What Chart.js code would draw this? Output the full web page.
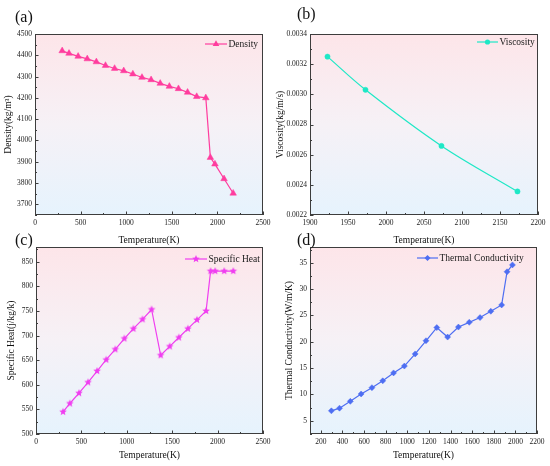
<!DOCTYPE html>
<html>
<head>
<meta charset="utf-8">
<script src="https://cdn.jsdelivr.net/npm/chart.js@4.4.1/dist/chart.umd.min.js"></script>
<style>
  body { margin: 0; background: #fff; width: 550px; height: 466px; position: relative; overflow: hidden; }
  canvas { position: absolute; display: block; }
</style>
</head>
<body>
<canvas id="chartA" width="275" height="250" style="left:0;top:0"></canvas>
<canvas id="chartB" width="275" height="250" style="left:275px;top:0"></canvas>
<canvas id="chartC" width="275" height="233" style="left:0;top:233px"></canvas>
<canvas id="chartD" width="275" height="233" style="left:275px;top:233px"></canvas>
<script>
// Données
const tempSolidLiquid = [298, 373, 473, 573, 673, 773, 873, 973, 1073, 1173, 1273, 1373, 1473, 1573, 1673, 1773, 1873, 1923, 1973, 2073, 2173];
const density = [4421, 4409, 4395, 4383, 4369, 4352, 4338, 4327, 4312, 4296, 4285, 4268, 4254, 4243, 4226, 4206, 4200, 3920, 3889, 3820, 3752];

const tempLiquid = [1923, 1973, 2073, 2173];
const viscosity = [0.00325, 0.00303, 0.002658, 0.002356];

const specificHeat = [545, 562, 583, 605, 628, 651, 672, 694, 714, 733, 753, 660, 678, 696, 714, 732, 750, 831, 831, 831, 831];

const tempConductivity = [298, 373, 473, 573, 673, 773, 873, 973, 1073, 1173, 1273, 1373, 1473, 1573, 1673, 1773, 1873, 1923, 1973];
const conductivity = [6.9, 7.4, 8.7, 10.1, 11.3, 12.6, 14.1, 15.4, 17.7, 20.2, 22.7, 20.9, 22.8, 23.7, 24.6, 25.8, 27.0, 33.3, 34.6];

// Graduations
const xTicksWide = [0, 500, 1000, 1500, 2000, 2500];
const yTicksDensity = [3700, 3800, 3900, 4000, 4100, 4200, 4300, 4400, 4500];
const xTicksLiquid = [1900, 1950, 2000, 2050, 2100, 2150, 2200];
const yTicksViscosity = [0.0022, 0.0024, 0.0026, 0.0028, 0.0030, 0.0032, 0.0034];
const yTicksHeat = [500, 550, 600, 650, 700, 750, 800, 850];
const xTicksCond = [200, 400, 600, 800, 1000, 1200, 1400, 1600, 1800, 2000, 2200];
const yTicksCond = [5, 10, 15, 20, 25, 30, 35];

const SERIF = "'Liberation Serif', 'Times New Roman', serif";

// Étoile pleine (marqueur de la chaleur spécifique)
function starImage(color, r) {
    const c = document.createElement('canvas');
    c.width = c.height = Math.ceil(r * 2 + 2);
    const g = c.getContext('2d');
    g.fillStyle = color;
    g.beginPath();
    for (let i = 0; i < 10; i++) {
        const rr = i % 2 ? r * 0.45 : r;
        const ang = -Math.PI / 2 + i * Math.PI / 5;
        g.lineTo(c.width / 2 + rr * Math.cos(ang), c.height / 2 + rr * Math.sin(ang));
    }
    g.closePath();
    g.fill();
    return c;
}

function drawMarker(ctx, style, x, y, r, color) {
    ctx.save();
    ctx.fillStyle = color;
    ctx.beginPath();
    if (style instanceof HTMLCanvasElement) {
        ctx.drawImage(style, x - style.width / 2, y - style.height / 2);
    } else if (style === 'triangle') {
        ctx.moveTo(x, y - r);
        ctx.lineTo(x + r * 0.87, y + r * 0.5);
        ctx.lineTo(x - r * 0.87, y + r * 0.5);
        ctx.fill();
    } else if (style === 'rectRot') {
        ctx.moveTo(x, y - r); ctx.lineTo(x + r, y); ctx.lineTo(x, y + r); ctx.lineTo(x - r, y);
        ctx.fill();
    } else {
        ctx.arc(x, y, r, 0, Math.PI * 2);
        ctx.fill();
    }
    ctx.restore();
}

// Minor ticks : un entre chaque graduation principale
function minorValues(major, min, max) {
    const step = major[1] - major[0];
    const out = [];
    for (let v = major[0] - step / 2; v <= max + 1e-12; v += step) {
        if (v >= min - 1e-12) out.push(v);
    }
    return out;
}

const panelPlugin = {
    id: 'panel',
    beforeDraw(chart) {
        const { ctx, chartArea: a } = chart;
        const g = ctx.createLinearGradient(0, a.top, 0, a.bottom);
        g.addColorStop(0, '#fde5e9');
        g.addColorStop(0.5, '#f6f1f6');
        g.addColorStop(1, '#e6f3fd');
        ctx.save();
        ctx.fillStyle = g;
        ctx.fillRect(a.left, a.top, a.width, a.height);
        ctx.restore();
    },
    afterDraw(chart, args, opts) {
        const { ctx, chartArea: a, scales } = chart;
        const xs = scales.x, ys = scales.y;
        ctx.save();
        // cadre
        ctx.strokeStyle = '#3d3d3d';
        ctx.lineWidth = 1;
        ctx.strokeRect(a.left + 0.5, a.top + 0.5, a.width - 1, a.height - 1);
        // graduations intérieures
        ctx.beginPath();
        xs.ticks.forEach(t => {
            const px = Math.round(xs.getPixelForValue(t.value)) + 0.5;
            ctx.moveTo(px, a.bottom); ctx.lineTo(px, a.bottom - 3.5);
        });
        minorValues(opts.xMajor, xs.min, xs.max).forEach(v => {
            const px = Math.round(xs.getPixelForValue(v)) + 0.5;
            ctx.moveTo(px, a.bottom); ctx.lineTo(px, a.bottom - 2);
        });
        ys.ticks.forEach(t => {
            const py = Math.round(ys.getPixelForValue(t.value)) + 0.5;
            ctx.moveTo(a.left, py); ctx.lineTo(a.left + 3.5, py);
        });
        minorValues(opts.yMajor, ys.min, ys.max).forEach(v => {
            const py = Math.round(ys.getPixelForValue(v)) + 0.5;
            ctx.moveTo(a.left, py); ctx.lineTo(a.left + 2, py);
        });
        ctx.stroke();

        // légende
        const ds = chart.data.datasets[0];
        const [lx1, lx2, ly] = opts.legend;
        ctx.strokeStyle = ds.borderColor;
        ctx.lineWidth = 1.2;
        ctx.beginPath();
        ctx.moveTo(lx1, ly); ctx.lineTo(lx2, ly);
        ctx.stroke();
        drawMarker(ctx, ds.pointStyle, (lx1 + lx2) / 2, ly, ds.pointRadius, ds.borderColor);
        ctx.fillStyle = '#1a1a1a';
        ctx.font = '9.5px ' + SERIF;
        ctx.textBaseline = 'middle';
        ctx.textAlign = 'left';
        ctx.fillText(ds.label, lx2 + 1.5, ly + 0.5);

        // étiquette du panneau
        ctx.font = '16px ' + SERIF;
        ctx.fillStyle = '#111';
        ctx.fillText(opts.tag[0], opts.tag[1], opts.tag[2]);
        ctx.restore();
    }
};

function makeChart(id, p) {
    const tickFont = { family: SERIF, size: 7.5 };
    const titleFont = { family: SERIF, size: 9.5 };
    return new Chart(document.getElementById(id), {
        type: 'line',
        data: {
            datasets: [{
                label: p.label,
                data: p.x.map((t, i) => ({ x: t, y: p.y[i] })),
                borderColor: p.color,
                backgroundColor: p.color,
                borderWidth: 1.2,
                pointStyle: p.marker,
                pointRadius: p.radius,
                pointBorderWidth: 0.5,
                tension: p.tension || 0
            }]
        },
        options: {
            responsive: false,
            animation: false,
            layout: { padding: { left: 0, right: p.padRight, top: p.padTop, bottom: 0 } },
            plugins: {
                legend: { display: false },
                tooltip: { enabled: false },
                panel: { legend: p.legend, tag: p.tag, xMajor: p.xTicks, yMajor: p.yTicks }
            },
            scales: {
                x: {
                    type: 'linear',
                    min: p.xMin, max: p.xMax,
                    grid: { display: false, drawTicks: false },
                    border: { display: false },
                    ticks: { font: tickFont, color: '#222', padding: 4, maxRotation: 0, autoSkip: false, callback: v => String(v) },
                    title: { display: true, text: 'Temperature(K)', font: titleFont, color: '#111', padding: { top: 0, bottom: p.xTitleBottom } },
                    afterBuildTicks: s => { s.ticks = p.xTicks.map(v => ({ value: v })); },
                    afterFit: s => { s.height = p.xHeight; }
                },
                y: {
                    min: p.yMin, max: p.yMax,
                    grid: { display: false, drawTicks: false },
                    border: { display: false },
                    ticks: { font: tickFont, color: '#222', padding: 3, autoSkip: false, callback: p.yFormat || (v => String(v)) },
                    title: { display: true, text: p.yTitle, font: titleFont, color: '#111', padding: { top: p.yTitlePad, bottom: 0 } },
                    afterBuildTicks: s => { s.ticks = p.yTicks.map(v => ({ value: v })); },
                    afterFit: s => { s.width = p.yWidth; }
                }
            }
        },
        plugins: [panelPlugin]
    });
}

makeChart('chartA', {
    label: 'Density', x: tempSolidLiquid, y: density, color: '#ff3d9e', marker: 'triangle', radius: 3.8,
    xMin: 0, xMax: 2500, yMin: 3650, yMax: 4500, xTicks: xTicksWide, yTicks: yTicksDensity,
    yTitle: 'Density(kg/m³)', yTitlePad: 3, yWidth: 35, xHeight: 35, xTitleBottom: 4,
    padRight: 12, padTop: 34, legend: [205, 227, 44], tag: ['(a)', 15, 18]
});

makeChart('chartB', {
    label: 'Viscosity', x: tempLiquid, y: viscosity, color: '#1ee8c6', marker: 'circle', radius: 2.6, tension: 0.35,
    xMin: 1900, xMax: 2200, yMin: 0.0022, yMax: 0.0034, xTicks: xTicksLiquid, yTicks: yTicksViscosity,
    yFormat: v => v.toFixed(4),
    yTitle: 'Viscosity(kg/m/s)', yTitlePad: 0, yWidth: 35, xHeight: 35, xTitleBottom: 4,
    padRight: 12, padTop: 34, legend: [202, 223, 42], tag: ['(b)', 22, 15]
});

makeChart('chartC', {
    label: 'Specific Heat', x: tempSolidLiquid, y: specificHeat, color: '#f03ef0', marker: starImage('#f03ef0', 4), radius: 4,
    xMin: 0, xMax: 2500, yMin: 500, yMax: 880, xTicks: xTicksWide, yTicks: yTicksHeat,
    yTitle: 'Specific Heat(j/kg/k)', yTitlePad: 6, yWidth: 36, xHeight: 32, xTitleBottom: 5,
    padRight: 12, padTop: 14, legend: [185, 207, 26], tag: ['(c)', 15, 8]
});

makeChart('chartD', {
    label: 'Thermal Conductivity', x: tempConductivity, y: conductivity, color: '#4e6ef2', marker: 'rectRot', radius: 3,
    xMin: 100, xMax: 2200, yMin: 2.5, yMax: 38, xTicks: xTicksCond, yTicks: yTicksCond,
    yTitle: 'Thermal Conductivity(W/m/K)', yTitlePad: 9, yWidth: 35, xHeight: 32, xTitleBottom: 5,
    padRight: 13, padTop: 14, legend: [142, 163, 25], tag: ['(d)', 22, 8]
});
</script>
</body>
</html>
